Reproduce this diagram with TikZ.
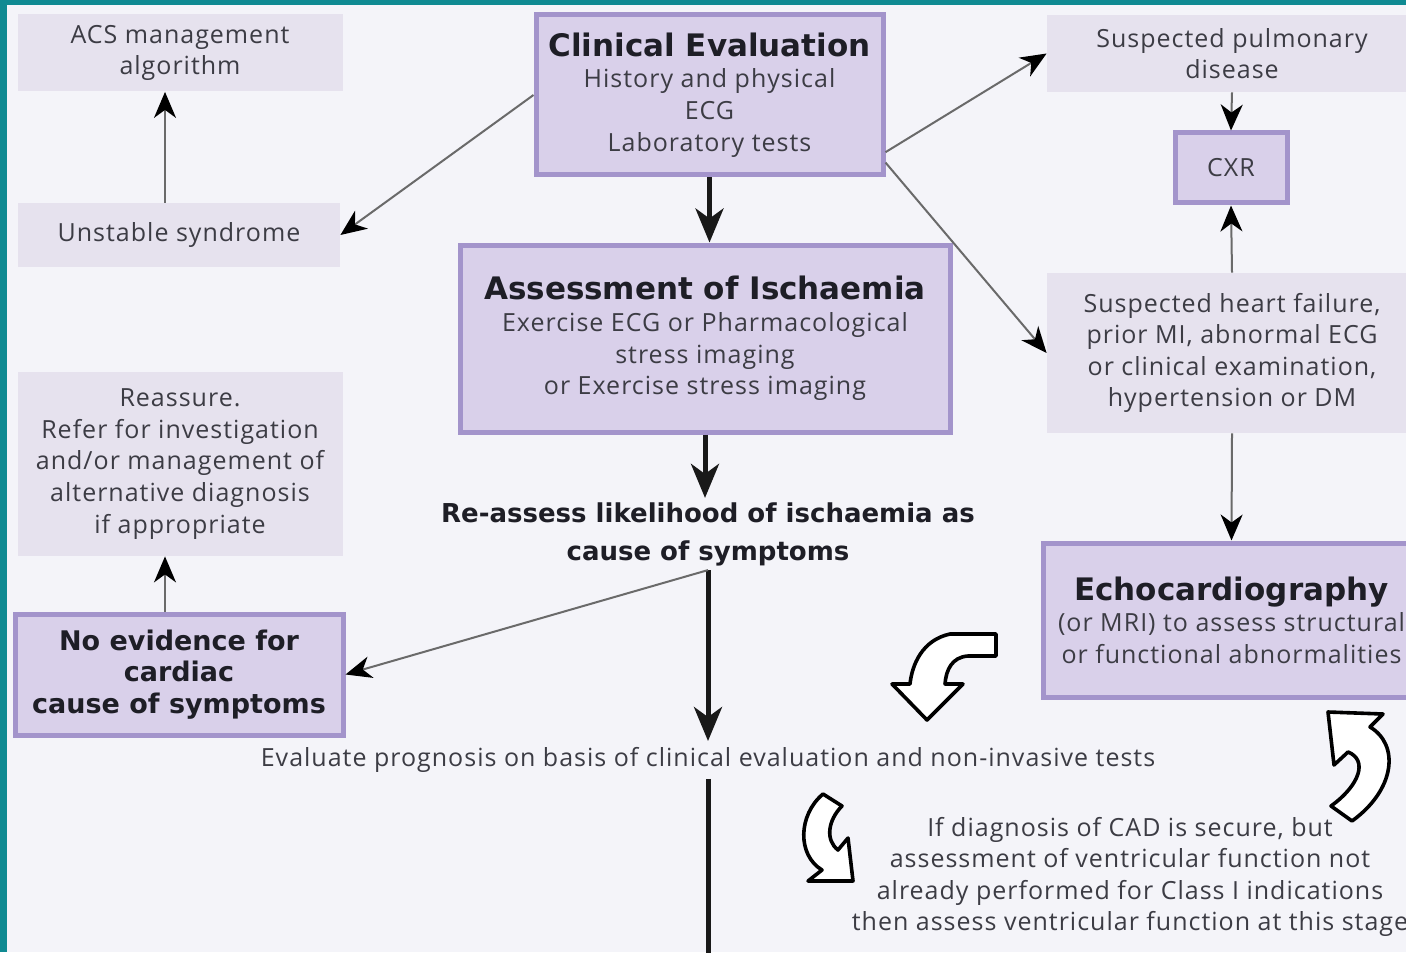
\documentclass[tikz,border=0pt]{standalone}
\usepackage{fontspec}
\setmainfont{Open Sans}[LetterSpace=4]
\newfontfamily\headsans{DejaVu Sans}
\usetikzlibrary{arrows.meta, positioning}

\definecolor{frameteal}{HTML}{0F8A92}
\definecolor{pagebg}{HTML}{F4F4F9}
\definecolor{palefill}{HTML}{E6E2EE}
\definecolor{keyfill}{HTML}{D9D0EA}
\definecolor{keyedge}{HTML}{A394CB}
\definecolor{bodytext}{HTML}{3C3C44}
\definecolor{headtext}{HTML}{1E1E26}
\definecolor{linegray}{HTML}{6A6A6A}

\newcommand{\bodyfont}{\fontsize{12.5}{15.8}\selectfont}
\newcommand{\headbig}{\headsans\bfseries\fontsize{15.5}{17}\selectfont\color{headtext}}
\newcommand{\headmid}{\headsans\bfseries\fontsize{13.5}{15}\selectfont\color{headtext}}
\newcommand{\headsmall}{\headsans\bfseries\fontsize{13}{19}\selectfont\color{headtext}}

\begin{document}
\begin{tikzpicture}[x=0.5pt, y=-0.5pt,
    palebox/.style={fill=palefill, align=center, inner sep=0pt, font=\bodyfont, text=bodytext},
    keybox/.style={fill=keyfill, draw=keyedge, line width=2.5pt, align=center, inner sep=0pt, font=\bodyfont, text=bodytext},
    thinline/.style={draw=linegray, line width=1pt, -{Stealth[length=13pt, width=11pt, inset=4pt, color=black]}},
    thickline/.style={draw=black!90, line width=2.5pt, -{Stealth[length=17pt, width=14pt, inset=5pt]}},
    turnarrow/.style={draw=black, fill=white, line width=1.8pt, line join=round}]
    \useasboundingbox (0,0) rectangle (1406,952);
    \clip (0,0) rectangle (1406,952);
    % Frame
    \fill[frameteal] (0,0) rectangle (1406,952);
    \fill[pagebg] (7,5) rectangle (1406,952);

    % Left column
    \node[palebox, minimum width=162.5pt, minimum height=38.5pt] (acs) at (180,53) {ACS management\\algorithm};
    \node[palebox, minimum width=161pt, minimum height=32pt] (unstable) at (179,235) {Unstable syndrome};
    \node[palebox, minimum width=162.5pt, minimum height=92pt] (reassure) at (180,464) {Reassure.\\Refer for investigation\\and/or management of\\alternative diagnosis\\if appropriate};
    \node[keybox, minimum width=164pt, minimum height=60.5pt] (noevid) at (179,674.5) {\headmid No evidence for\\\headmid cardiac\\\headmid cause of symptoms};

    % Centre column
    \node[keybox, minimum width=173.5pt, minimum height=80pt] (clin) at (709.5,95) {{\headbig Clinical Evaluation}\\History and physical\\ECG\\Laboratory tests};
    \node[keybox, minimum width=245pt, minimum height=93.5pt] (isch) at (705,338.5) {{\headbig Assessment of Ischaemia}\\Exercise ECG or Pharmacological\\stress imaging\\or Exercise stress imaging};
    \node[align=center, inner sep=2pt, font=\headsmall] (reassess) at (708,534) {Re-assess likelihood of ischaemia as\\cause of symptoms};
    \node[inner sep=3pt, font=\bodyfont, text=bodytext] (evalprog) at (708,760) {Evaluate prognosis on basis of clinical evaluation and non-invasive tests};
    \coordinate (bottomend) at (708,960);

    % Right column
    \node[palebox, minimum width=185pt, minimum height=38.5pt] (pulm) at (1232,53.5) {Suspected pulmonary\\disease};
    \node[keybox, minimum width=56pt, minimum height=35pt] (cxr) at (1231,168) {CXR};
    \node[palebox, minimum width=185pt, minimum height=80pt] (heart) at (1232,353) {Suspected heart failure,\\prior MI, abnormal ECG\\or clinical examination,\\hypertension or DM};
    \node[keybox, minimum width=188.5pt, minimum height=77pt] (echo) at (1231.5,620) {{\headbig Echocardiography}\\(or MRI) to assess structural\\or functional abnormalities};
    \node[align=center, font=\bodyfont, text=bodytext] (cadnote) at (1130,877) {If diagnosis of CAD is secure, but\\assessment of ventricular function not\\already performed for Class I indications\\then assess ventricular function at this stage};

    % Arrows
    \draw[thickline] (clin.south) -- (clin.south |- isch.north);
    \draw[thickline] (isch.south) -- (isch.south |- reassess.north);
    \draw[thickline] (reassess.south) -- (evalprog.north);
    \draw[draw=black!90, line width=2.5pt] (evalprog.south) -- (bottomend);
    \draw[thinline] (reassess.south) -- (noevid.east);
    \draw[thinline] (clin.west) -- (unstable.east);
    \draw[thinline] ([xshift=-7pt]unstable.north) -- ([xshift=-7pt]unstable.north |- acs.south);
    \draw[thinline] ([xshift=-7pt]noevid.north) -- ([xshift=-7pt]noevid.north |- reassure.south);
    \draw[thinline] (clin.-18) -- (pulm.west);
    \draw[thinline] (clin.-21) -- (heart.west);
    \draw[thinline] (pulm.south) -- (cxr.north);
    \draw[thinline] (heart.north) -- (cxr.south);
    \draw[thinline] (heart.south) -- (echo.north);

    % Turning arrows
    \draw[turnarrow] (996,634) -- (950,634) .. controls (922,640) and (912,665) .. (910,684) -- (892,684) -- (927,720) -- (963,684) -- (945,684) .. controls (946,670) and (952,657) .. (968,656) -- (996,656) -- cycle;
    \draw[turnarrow] (823,794) -- (842,806) .. controls (828,820) and (825,840) .. (838,850) -- (848,838) -- (853,881) -- (808,881) -- (822,870) .. controls (797,855) and (798,815) .. (823,794) -- cycle;
    \draw[turnarrow] (1328,712) -- (1383,714) -- (1370,727) .. controls (1400,745) and (1395,790) .. (1352,821) -- (1331,806) .. controls (1360,785) and (1368,760) .. (1348,752) -- (1334,765) -- cycle;
\end{tikzpicture}
\end{document}
